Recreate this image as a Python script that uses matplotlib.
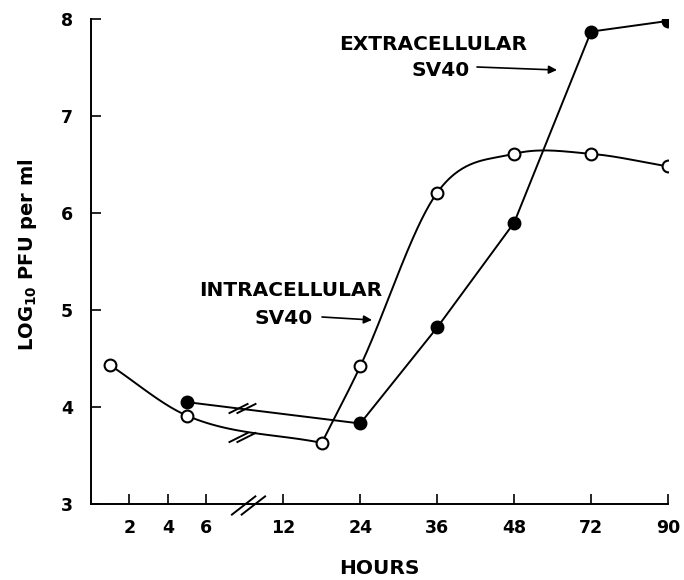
import numpy as np
import matplotlib
matplotlib.use("Agg")
import matplotlib.pyplot as plt
from matplotlib.path import Path

# ---- data (hours, log10 PFU/ml) ----
intra_hours = [1, 5, 18, 24, 36, 48, 72, 90]
intra_vals = [4.43, 3.91, 3.63, 4.42, 6.21, 6.61, 6.61, 6.48]
extra_hours = [5, 24, 36, 48, 72, 90]
extra_vals = [4.05, 3.83, 4.82, 5.90, 7.87, 7.98]
xtick_hours = [2, 4, 6, 12, 24, 36, 48, 72, 90]
ytick_vals = [3, 4, 5, 6, 7, 8]

# broken, non-linear hour axis
H_KNOTS = [0, 6, 12, 24, 36, 48, 72, 90, 100]
P_KNOTS = [0, 1.5, 2.5, 3.5, 4.5, 5.5, 6.5, 7.5, 8.0]
def fwd(h):
    return np.interp(h, H_KNOTS, P_KNOTS)
def inv(p):
    return np.interp(p, P_KNOTS, H_KNOTS)

def hermite(hours, vals, n=60):
    """Smooth cubic Hermite curve through the points (drawn in axis position space)."""
    x = fwd(np.array(hours, float))
    y = np.array(vals, float)
    sec = np.diff(y) / np.diff(x)
    m = np.empty_like(y)
    m[0], m[-1] = sec[0], sec[-1]
    m[1:-1] = 0.5 * (sec[:-1] + sec[1:])
    xs, ys = [], []
    for i in range(len(x) - 1):
        h = x[i + 1] - x[i]
        t = np.linspace(0, 1, n)
        h00 = 2 * t**3 - 3 * t**2 + 1
        h10 = t**3 - 2 * t**2 + t
        h01 = -2 * t**3 + 3 * t**2
        h11 = t**3 - t**2
        xs.append(x[i] + t * h)
        ys.append(h00 * y[i] + h10 * h * m[i] + h01 * y[i + 1] + h11 * h * m[i + 1])
    return inv(np.concatenate(xs)), np.concatenate(ys)

plt.rcParams['font.family'] = ['DejaVu Sans']
plt.rcParams['font.weight'] = 'bold'

fig = plt.figure(figsize=(6.84, 5.80), dpi=100)
W, H = 684.0, 580.0
ax = fig.add_axes([91 / W, 1 - 504 / H, (668 - 91) / W, (504 - 19) / H])
ax.set_xscale('function', functions=(fwd, inv))
ax.set_xlim(0, 90)
ax.set_ylim(3, 8)

LW = 1.4
# intracellular: smooth curve pieces
hx, hy = hermite(intra_hours[:3], intra_vals[:3])
ax.plot(hx, hy, color='black', lw=LW, zorder=2)
hx, hy = hermite(intra_hours[2:], intra_vals[2:])
ax.plot(hx, hy, color='black', lw=LW, zorder=2)
ax.plot(intra_hours, intra_vals, 'o', ls='none', ms=8.5, mfc='white',
        mec='black', mew=1.5, zorder=4)

# extracellular: straight segments
ax.plot(extra_hours, extra_vals, '-o', color='black', lw=LW, ms=9,
        mfc='black', mec='black', zorder=3)

# break marks ("//")
brk = Path([(-1.4, -0.5), (0.6, 0.5), (-0.6, -0.5), (1.4, 0.5)],
           [Path.MOVETO, Path.LINETO, Path.MOVETO, Path.LINETO])
brk_h = inv(1.96)
for yv in (3.99, 3.69):
    ax.plot([brk_h], [yv], marker=brk, ms=20, mew=1.4, color='black',
            ls='none', zorder=5)
axbrk = Path([(-1.25, -0.7), (0.55, 0.7), (-0.55, -0.7), (1.25, 0.7)],
             [Path.MOVETO, Path.LINETO, Path.MOVETO, Path.LINETO])
ax.plot([inv(2.04)], [2.985], marker=axbrk, ms=25, mew=1.4, color='black',
        ls='none', zorder=5, clip_on=False)

# axes styling
for s in ['top', 'right']:
    ax.spines[s].set_visible(False)
ax.spines['left'].set_linewidth(1.4)
ax.spines['bottom'].set_linewidth(1.4)
ax.set_xticks(xtick_hours)
ax.set_xticklabels([str(h) for h in xtick_hours])
ax.set_yticks(ytick_vals)
ax.tick_params(axis='both', direction='in', length=7, width=1.2,
               labelsize=12.5)
ax.tick_params(axis='x', pad=11)
ax.tick_params(axis='y', pad=13)
ax.minorticks_off()
for lab in ax.get_xticklabels() + ax.get_yticklabels():
    lab.set_fontweight('bold')

FS = 14.5
fig.text(28 / W, 1 - 255 / H, r'LOG$_{\bf{10}}$ PFU per ml', rotation=90,
         ha='center', va='center', fontsize=14, fontweight='bold')
fig.text(379 / W, 1 - 568 / H, 'HOURS', ha='center', va='center',
         fontsize=FS, fontweight='bold')

# annotations
fig.text(433 / W, 1 - 45 / H, 'EXTRACELLULAR', ha='center', va='center',
         fontsize=FS, fontweight='bold')
fig.text(470 / W, 1 - 70 / H, 'SV40', ha='right', va='center',
         fontsize=FS, fontweight='bold')
ax.annotate('', xy=(557 / W, 1 - 70 / H), xytext=(477 / W, 1 - 67 / H),
            xycoords='figure fraction', textcoords='figure fraction',
            arrowprops=dict(arrowstyle='-|>', color='black', lw=1.2,
                            mutation_scale=12, shrinkA=0, shrinkB=0))
fig.text(291 / W, 1 - 290 / H, 'INTRACELLULAR', ha='center', va='center',
         fontsize=FS, fontweight='bold')
fig.text(313 / W, 1 - 319 / H, 'SV40', ha='right', va='center',
         fontsize=FS, fontweight='bold')
ax.annotate('', xy=(372 / W, 1 - 320 / H), xytext=(322 / W, 1 - 317 / H),
            xycoords='figure fraction', textcoords='figure fraction',
            arrowprops=dict(arrowstyle='-|>', color='black', lw=1.2,
                            mutation_scale=12, shrinkA=0, shrinkB=0))

fig.savefig('out.png', dpi=100)
